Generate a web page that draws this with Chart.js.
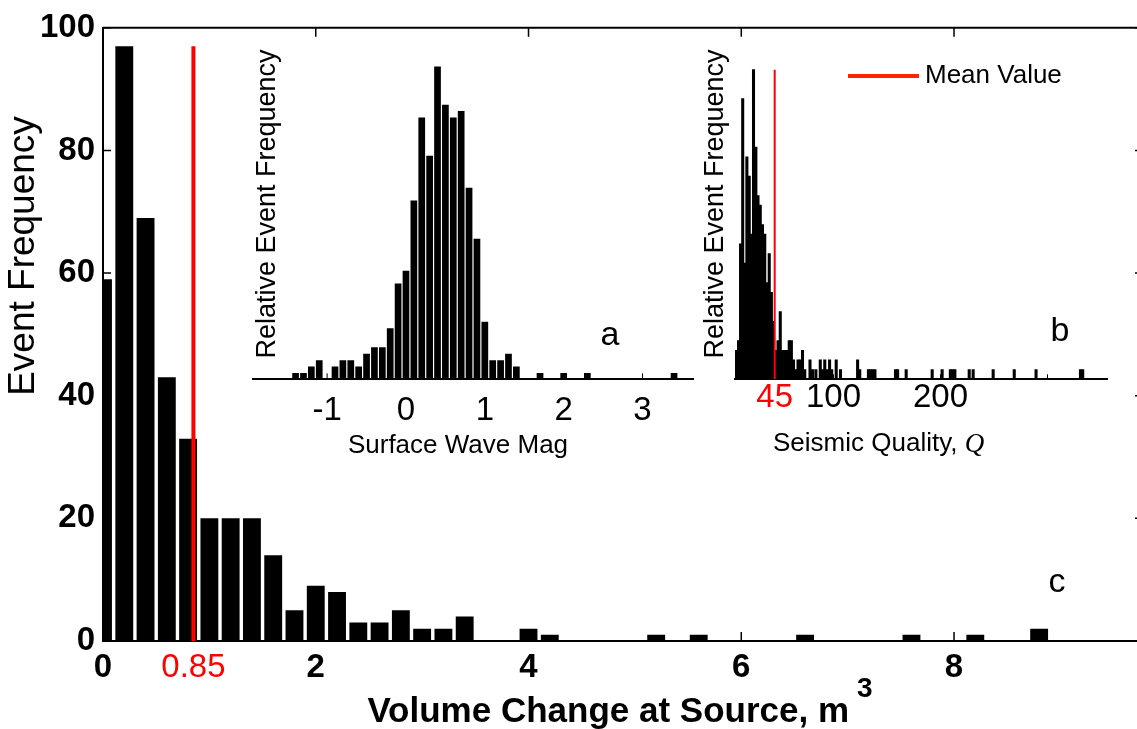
<!DOCTYPE html>
<html>
<head>
<meta charset="utf-8">
<title>Volume change at source</title>
<script src="https://cdn.jsdelivr.net/npm/chart.js@4.4.1/dist/chart.umd.min.js"></script>
<style>
  html, body { margin: 0; padding: 0; background: #fff; }
  #figure { position: relative; width: 1137px; height: 729px; overflow: hidden; }
  #figure canvas { position: absolute; }
</style>
</head>
<body>
<div id="figure">
  <canvas id="volumeChart" width="1137" height="729" style="left:0;top:0"></canvas>
  <canvas id="magChart" width="470" height="440" style="left:240px;top:30px"></canvas>
  <canvas id="qChart" width="447" height="440" style="left:690px;top:30px"></canvas>
</div>
<script>
// main histogram (c): volume change at source, m^3
const volumeBins = [0, 0.2, 0.4, 0.6, 0.8, 1.0, 1.2, 1.4, 1.6, 1.8, 2.0, 2.2, 2.4, 2.6, 2.8, 3.0, 3.2, 3.4, 4.0, 4.2, 5.2, 5.6, 6.6, 7.6, 8.2, 8.8];
const volumeCounts = [59, 97, 69, 43, 33, 20, 20, 20, 14, 5, 9, 8, 3, 3, 5, 2, 2, 4, 2, 1, 1, 1, 1, 1, 1, 2];
const volumeMean = 0.85;
const volumeTicks = [0, 0.85, 2, 4, 6, 8];
const volumeMarks = [0, 2, 4, 6, 8];
const countTicks = [0, 20, 40, 60, 80, 100];

// inset (a): surface wave magnitude
const magBins = [-1.4, -1.3, -1.2, -1.1, -0.9, -0.8, -0.7, -0.6, -0.5, -0.4, -0.3, -0.2, -0.1, 0, 0.1, 0.2, 0.3, 0.4, 0.5, 0.6, 0.7, 0.8, 0.9, 1.0, 1.1, 1.2, 1.3, 1.4, 1.7, 2.0, 2.3, 3.4];
const magCounts = [1, 1, 2, 3, 2, 3, 3, 2, 4, 5, 5, 8, 15, 17, 28, 41, 35, 49, 43, 41, 42, 30, 22, 9, 3, 3, 4, 2, 1, 1, 1, 1];
const magTicks = [-1, 0, 1, 2, 3];

// inset (b): seismic quality Q
const qBins = [9.2, 11.2, 13.1, 15.1, 17.1, 19.0, 21.2, 23.2, 25.2, 27.4, 29.4, 31.5, 33.6, 35.7, 37.7, 39.9, 41.9, 43.9, 46.1, 48.1,
  50.2, 52.3, 54.4, 56.4, 58.6, 60.6, 62.6, 64.8, 66.8, 68.9, 71.0, 73.1,
  78.0, 80.4, 83.5, 87.6, 89.7, 91.8, 94.3, 96.3, 98.3, 102.5, 106.5, 122.5, 124.5, 132.6, 134.6, 136.7, 138.7,
  157.9, 159.9, 167.9, 192.2, 201.5, 209.2, 211.3, 213.4, 226.8, 230.5, 249.2, 268.9, 289.3, 330.8, 332.9];
const qCounts = [3, 4, 14, 29, 12, 23, 21, 15, 32, 24, 19, 18, 16, 15, 10, 13, 9, 6, 3, 4,
  7, 3, 3, 3, 4, 4, 2, 1, 2, 2, 3, 1,
  2, 1, 1, 2, 1, 2, 1, 2, 1, 2, 1, 2, 1, 1, 1, 1, 1,
  1, 1, 1, 1, 1, 1, 1, 1, 1, 1, 1, 1, 1, 1, 1];
const qMean = 45;
const qTicks = [45, 100, 200];
const qMarks = [100, 200, 300];

const SANS = '"Liberation Sans", Arial, Helvetica, sans-serif';
Chart.defaults.font.family = SANS;
Chart.defaults.color = '#000';

function toPoints(xs, ys) {
  return xs.map((x, i) => ({ x: x, y: ys[i] }));
}

function fixedTicks(values) {
  return scale => { scale.ticks = values.map(v => ({ value: v })); };
}

// true when the tick in a scriptable context is the given value
function isTick(c, v) {
  return !!(c && c.tick && c.tick.value === v);
}

// frame, inward ticks and text of the main axes
const volumeDecor = {
  id: 'volumeDecor',
  afterDraw(chart) {
    const { ctx, chartArea: a, scales: { x, y } } = chart;
    ctx.save();
    ctx.strokeStyle = '#000';
    ctx.lineWidth = 2;
    ctx.beginPath();
    ctx.moveTo(a.left, a.top);
    ctx.lineTo(a.right, a.top);
    ctx.stroke();

    ctx.lineWidth = 1.5;
    ctx.beginPath();
    volumeMarks.forEach(v => {
      const px = x.getPixelForValue(v);
      ctx.moveTo(px, a.bottom); ctx.lineTo(px, a.bottom - 9);
      ctx.moveTo(px, a.top); ctx.lineTo(px, a.top + 9);
    });
    countTicks.forEach(v => {
      const py = y.getPixelForValue(v);
      ctx.moveTo(a.left, py); ctx.lineTo(a.left + 8, py);
      ctx.moveTo(a.right + 3, py); ctx.lineTo(a.right - 2, py);
    });
    ctx.stroke();

    ctx.fillStyle = '#000';
    // y title
    ctx.save();
    ctx.translate(24, 256);
    ctx.rotate(-Math.PI / 2);
    ctx.font = '37px ' + SANS;
    ctx.textAlign = 'center';
    ctx.textBaseline = 'middle';
    ctx.fillText('Event Frequency', 0, 0);
    ctx.restore();

    // x title with superscript
    const main = 'Volume Change at Source, m';
    ctx.font = 'bold 35px ' + SANS;
    const w1 = ctx.measureText(main).width;
    ctx.font = 'bold 28px ' + SANS;
    const w2 = ctx.measureText('3').width;
    const x0 = (a.left + a.right) / 2 - (w1 + w2 + 8) / 2;
    ctx.textAlign = 'left';
    ctx.textBaseline = 'alphabetic';
    ctx.font = 'bold 35px ' + SANS;
    ctx.fillText(main, x0, 722);
    ctx.font = 'bold 28px ' + SANS;
    ctx.fillText('3', x0 + w1 + 8, 697);

    ctx.font = '34px ' + SANS;
    ctx.textAlign = 'center';
    ctx.fillText('c', 1057, 592);
    ctx.restore();
  }
};

new Chart(document.getElementById('volumeChart'), {
  type: 'bar',
  data: {
    datasets: [
      {
        type: 'line',
        data: [{ x: volumeMean, y: 0 }, { x: volumeMean, y: Math.max(...volumeCounts) }],
        borderColor: '#ff0000',
        borderWidth: 4,
        pointRadius: 0,
        order: 0
      },
      {
        data: toPoints(volumeBins, volumeCounts),
        backgroundColor: '#000',
        barPercentage: 0.84,
        categoryPercentage: 1,
        clip: 0,
        order: 1
      }
    ]
  },
  options: {
    responsive: false,
    animation: false,
    layout: { padding: { top: 21, left: 0, right: 0, bottom: 0 } },
    plugins: { legend: { display: false }, tooltip: { enabled: false } },
    scales: {
      x: {
        type: 'linear',
        min: 0,
        max: 9.72,
        offset: false,
        grid: { display: false, drawTicks: false, offset: false },
        border: { color: '#000', width: 2 },
        afterBuildTicks: fixedTicks(volumeTicks),
        afterFit: s => { s.height = 88; },
        ticks: {
          autoSkip: false,
          maxRotation: 0,
          padding: 7,
          color: c => isTick(c, volumeMean) ? '#ff0000' : '#000',
          font: c => ({ size: 33, weight: isTick(c, volumeMean) ? 'normal' : 'bold' }),
          callback: v => String(v)
        }
      },
      y: {
        min: 0,
        max: 100,
        grid: { display: false, drawTicks: false },
        border: { color: '#000', width: 2 },
        afterBuildTicks: fixedTicks(countTicks),
        afterFit: s => { s.width = 103; },
        ticks: { padding: 8, font: { size: 33, weight: 'bold' }, callback: v => String(v) }
      }
    }
  },
  plugins: [volumeDecor]
});

// inset a decorations
const magDecor = {
  id: 'magDecor',
  afterDraw(chart) {
    const { ctx, chartArea: a, scales: { x } } = chart;
    ctx.save();
    ctx.strokeStyle = '#000';
    ctx.lineWidth = 1;
    ctx.beginPath();
    magTicks.forEach(v => {
      const px = x.getPixelForValue(v);
      ctx.moveTo(px, a.bottom); ctx.lineTo(px, a.bottom - 6);
    });
    ctx.stroke();

    ctx.fillStyle = '#000';
    ctx.save();
    ctx.translate(28, 174);
    ctx.rotate(-Math.PI / 2);
    ctx.font = '27px ' + SANS;
    ctx.textAlign = 'center';
    ctx.textBaseline = 'middle';
    ctx.fillText('Relative Event Frequency', 0, 0);
    ctx.restore();

    ctx.font = '26px ' + SANS;
    ctx.textAlign = 'center';
    ctx.textBaseline = 'middle';
    ctx.fillText('Surface Wave Mag', 218, 416);

    ctx.font = '34px ' + SANS;
    ctx.textBaseline = 'alphabetic';
    ctx.fillText('a', 370, 315);
    ctx.restore();
  }
};

new Chart(document.getElementById('magChart'), {
  type: 'bar',
  data: {
    datasets: [{
      data: toPoints(magBins, magCounts),
      backgroundColor: '#000',
      barPercentage: 0.85,
      categoryPercentage: 1
    }]
  },
  options: {
    responsive: false,
    animation: false,
    layout: { padding: { top: 30, left: 13, right: 17, bottom: 0 } },
    plugins: { legend: { display: false }, tooltip: { enabled: false } },
    scales: {
      x: {
        type: 'linear',
        min: -1.94,
        max: 3.64,
        offset: false,
        grid: { display: false, drawTicks: false, offset: false },
        border: { color: '#000', width: 2 },
        afterBuildTicks: fixedTicks(magTicks),
        afterFit: s => { s.height = 90.7; },
        ticks: { autoSkip: false, maxRotation: 0, padding: 15, font: { size: 33, lineHeight: 1 }, callback: v => String(v) }
      },
      y: { display: false, min: 0, max: 50 }
    }
  },
  plugins: [magDecor]
});

// inset b decorations
const qDecor = {
  id: 'qDecor',
  afterDraw(chart) {
    const { ctx, chartArea: a, scales: { x } } = chart;
    ctx.save();
    ctx.strokeStyle = '#000';
    ctx.lineWidth = 1;
    ctx.beginPath();
    qMarks.forEach(v => {
      const px = x.getPixelForValue(v);
      ctx.moveTo(px, a.bottom); ctx.lineTo(px, a.bottom - 5);
    });
    ctx.stroke();

    ctx.fillStyle = '#000';
    ctx.save();
    ctx.translate(26, 174);
    ctx.rotate(-Math.PI / 2);
    ctx.font = '27px ' + SANS;
    ctx.textAlign = 'center';
    ctx.textBaseline = 'middle';
    ctx.fillText('Relative Event Frequency', 0, 0);
    ctx.restore();

    // x title with italic Q
    ctx.textAlign = 'left';
    ctx.textBaseline = 'middle';
    ctx.font = '26px ' + SANS;
    const label = 'Seismic Quality, ';
    ctx.fillText(label, 83, 414);
    const w = ctx.measureText(label).width;
    ctx.font = 'italic 27px "Liberation Serif", "Times New Roman", serif';
    ctx.fillText('Q', 83 + w, 415);

    // legend
    ctx.strokeStyle = '#ff2200';
    ctx.lineWidth = 4;
    ctx.beginPath();
    ctx.moveTo(158, 46);
    ctx.lineTo(229, 46);
    ctx.stroke();
    ctx.font = '26px ' + SANS;
    ctx.fillText('Mean Value', 235, 46);

    ctx.font = '34px ' + SANS;
    ctx.textAlign = 'center';
    ctx.textBaseline = 'alphabetic';
    ctx.fillText('b', 370, 311);
    ctx.restore();
  }
};

new Chart(document.getElementById('qChart'), {
  type: 'bar',
  data: {
    datasets: [
      {
        type: 'line',
        data: [{ x: qMean, y: 0 }, { x: qMean, y: Math.max(...qCounts) }],
        borderColor: '#ff0000',
        borderWidth: 2,
        pointRadius: 0,
        order: 0
      },
      {
        data: toPoints(qBins, qCounts),
        backgroundColor: '#000',
        barThickness: 2.4,
        order: 1
      }
    ]
  },
  options: {
    responsive: false,
    animation: false,
    layout: { padding: { top: 30, left: 45, right: 30, bottom: 0 } },
    plugins: { legend: { display: false }, tooltip: { enabled: false } },
    scales: {
      x: {
        type: 'linear',
        min: 7.9,
        max: 355.6,
        offset: false,
        grid: { display: false, drawTicks: false, offset: false },
        border: { color: '#000', width: 2 },
        afterBuildTicks: fixedTicks(qTicks),
        afterFit: s => { s.height = 90.7; },
        ticks: {
          autoSkip: false,
          maxRotation: 0,
          padding: 2,
          font: { size: 33, lineHeight: 1 },
          color: c => isTick(c, qMean) ? '#ff0000' : '#000',
          callback: v => String(v)
        }
      },
      y: { display: false, min: 0, max: 33 }
    }
  },
  plugins: [qDecor]
});
</script>
</body>
</html>
